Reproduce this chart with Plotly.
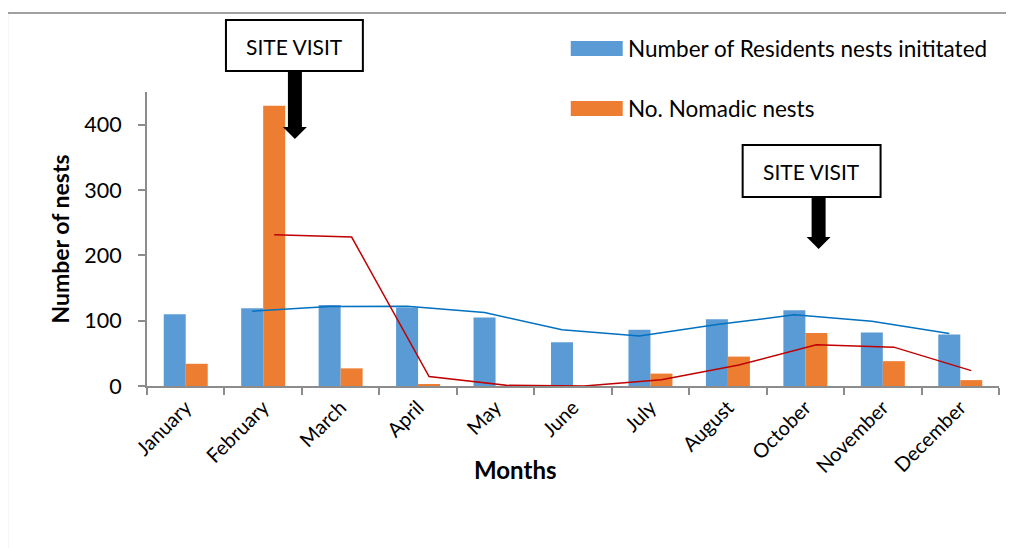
import plotly.graph_objects as go
import pandas as pd

months = ["January", "February", "March", "April", "May", "June", "July",
          "August", "October", "November", "December"]
residents = [110, 119, 124, 120, 105, 67, 86, 102, 116, 82, 79]
nomadic = [34, 429, 27, 2, 0, 0, 19, 45, 81, 38, 9]
y_ticks = [0, 100, 200, 300, 400]

res_name = "Number of Residents nests inititated"
nom_name = "No. Nomadic nests"

BLUE = "#5B9BD5"
ORANGE = "#ED7D31"
FONT = "Lato"

# 2-period moving average trendlines (as in the original chart)
res_ma = pd.Series(residents).rolling(2).mean()
nom_ma = pd.Series(nomadic).rolling(2).mean()
idx = list(range(len(months)))
BAR_W = 0.284  # width of one bar in category units

# page body has an 8px margin, so the figure is drawn 8px in from the corner
OFF = 8
W, H = 1014 - OFF, 548 - OFF
L, R, T, B = 147, 999.5, 92, 386  # plot area in window pixels


def px(x):
    return (x - L) / (R - L)


def py(y):
    return (B - y) / (B - T)


fig = go.Figure()
fig.add_trace(go.Bar(x=months, y=residents, name=res_name, marker_color=BLUE,
                     marker_line_width=0, showlegend=False))
fig.add_trace(go.Bar(x=months, y=nomadic, name=nom_name, marker_color=ORANGE,
                     marker_line_width=0, showlegend=False))
fig.add_trace(go.Scatter(x=[i - BAR_W / 2 for i in idx][1:], y=res_ma[1:], mode="lines",
                         line=dict(color="#0070C0", width=1.5), xaxis="x2",
                         showlegend=False, hoverinfo="skip"))
fig.add_trace(go.Scatter(x=[i + BAR_W / 2 for i in idx][1:], y=nom_ma[1:], mode="lines",
                         line=dict(color="#C00000", width=1.5), xaxis="x2",
                         showlegend=False, hoverinfo="skip"))

shapes = []
# outer frame lines
shapes.append(dict(type="line", xref="paper", yref="paper", x0=px(7), x1=px(1014),
                   y0=py(13), y1=py(13), line=dict(color="#A0A0A0", width=2)))
shapes.append(dict(type="line", xref="paper", yref="paper", x0=px(7), x1=px(7),
                   y0=py(13), y1=py(548), line=dict(color="#A0A0A0", width=2)))
# site visit boxes
for (x0, y0, x1, y1) in [(226, 20, 363, 71), (743, 145, 881, 197)]:
    shapes.append(dict(type="rect", xref="paper", yref="paper", x0=px(x0), x1=px(x1),
                       y0=py(y0), y1=py(y1), line=dict(color="black", width=2),
                       fillcolor="white", layer="above"))


def arrow(cx, ytop, ybody, ytip, sw=7, hw=12):
    pts = [(cx - sw, ytop), (cx + sw, ytop), (cx + sw, ybody), (cx + hw, ybody),
           (cx, ytip), (cx - hw, ybody), (cx - sw, ybody)]
    path = "M " + " L ".join(f"{px(a):.5f},{py(b):.5f}" for a, b in pts) + " Z"
    return dict(type="path", xref="paper", yref="paper", path=path,
                fillcolor="black", line=dict(color="black", width=0), layer="above")


shapes.append(arrow(295, 71, 127, 139))
shapes.append(arrow(819, 197, 237, 249))
# legend swatches
shapes.append(dict(type="rect", xref="paper", yref="paper", x0=px(571), x1=px(623),
                   y0=py(41), y1=py(56), fillcolor=BLUE, line=dict(width=0)))
shapes.append(dict(type="rect", xref="paper", yref="paper", x0=px(571), x1=px(623),
                   y0=py(101), y1=py(116), fillcolor=ORANGE, line=dict(width=0)))


def note(text, x, y, size, xanchor="center"):
    return dict(text=text, x=px(x), y=py(y), xref="paper", yref="paper",
                xanchor=xanchor, yanchor="middle", showarrow=False,
                font=dict(family=FONT, size=size, color="black"))


annotations = [
    note("SITE VISIT", 294.5, 46, 21),
    note("SITE VISIT", 812, 171, 21),
    note(res_name, 626, 48.5, 22.5, "left"),
    note(nom_name, 626, 108.5, 22.5, "left"),
    note("<b>Months</b>", 515, 469, 24),
]

fig.update_layout(
    width=W, height=H,
    margin=dict(l=L - OFF, r=W - (R - OFF), t=T - OFF, b=H - (B - OFF), pad=0),
    plot_bgcolor="white", paper_bgcolor="white",
    barmode="group", bargap=0.432, bargroupgap=0,
    font=dict(family=FONT, size=19, color="black"),
    showlegend=False,
    shapes=shapes, annotations=annotations,
    xaxis=dict(type="category", tickson="boundaries", ticks="outside", ticklen=7,
               tickcolor="#8C8C8C", tickwidth=1.5, showline=True, linecolor="#8C8C8C",
               linewidth=2, showgrid=False, tickangle=-45, automargin=False,
               tickfont=dict(family=FONT, size=20, color="black")),
    xaxis2=dict(overlaying="x", range=[-0.5, len(months) - 0.5], visible=False),
    yaxis=dict(range=[0, 450], tickvals=y_ticks, ticks="outside", ticklen=7,
               tickcolor="#8C8C8C", tickwidth=1.5, showline=True, linecolor="#8C8C8C",
               linewidth=2, showgrid=False, zeroline=False, ticklabelstandoff=12,
               automargin=False,
               tickfont=dict(family=FONT, size=21.5, color="black"),
               title=dict(text="<b>Number of nests</b>", standoff=8,
                          font=dict(family=FONT, size=23, color="black"))),
)

fig.write_html("out.html")
